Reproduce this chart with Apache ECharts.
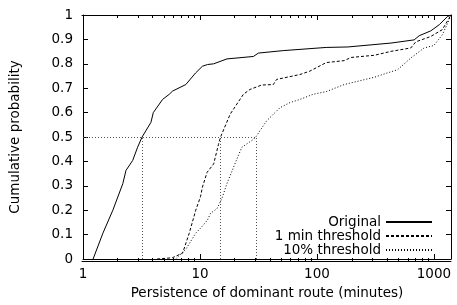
<!DOCTYPE html>
<html><head><meta charset="utf-8">
<script src="https://cdn.jsdelivr.net/npm/echarts@6/dist/echarts.min.js"></script>
<style>html,body{margin:0;padding:0;background:#fff}#c{width:457px;height:305px}</style>
</head><body><div id="c"></div>
<script>
// ---- data ----
var seriesNames = ['Original', '1 min threshold', '10% threshold'];
var originalX = [1.22,1.48,1.80,2.19,2.33,2.66,2.93,3.2,3.81,3.99,4.79,5.46,5.82,7.57,9.2,10.5,11.6,13.1,17,28.6,31.6,51.5,120,184,430,678,748,940,1110,1300,1400];
var originalY = [0,0.106,0.20,0.309,0.363,0.404,0.458,0.5,0.56,0.60,0.654,0.675,0.688,0.715,0.763,0.79,0.797,0.80,0.82,0.83,0.844,0.854,0.867,0.869,0.885,0.898,0.915,0.935,0.96,0.993,1];
var oneMinX = [4.3,5.8,7.1,8.1,9.2,10.1,10.5,11.5,13.1,14.4,15,18.1,23.5,26.8,33.7,42.4,45.2,71.5,87,120,171,196,310,430,635,700,940,1180,1350,1400];
var oneMinY = [0,0.005,0.024,0.106,0.20,0.255,0.295,0.355,0.39,0.47,0.5,0.593,0.675,0.695,0.713,0.715,0.736,0.756,0.77,0.805,0.813,0.826,0.835,0.851,0.865,0.89,0.912,0.94,0.987,1];
var tenPctX = [6.2,7.57,9.2,10.1,11.6,12.3,14.0,15.4,17.0,20.7,22.8,28.6,30,37.1,48.3,58.8,71.5,92.6,120,171,310,403,490,635,825,1000,1180,1350,1400];
var tenPctY = [0,0.04,0.106,0.126,0.16,0.187,0.207,0.248,0.309,0.41,0.458,0.49,0.5,0.566,0.62,0.641,0.654,0.675,0.686,0.715,0.745,0.763,0.776,0.824,0.865,0.875,0.919,0.98,1];
var medianLevel = 0.5;
var medians = [3.2, 15, 30];
var xMinorTicks = [2,3,4,5,6,7,8,9,20,30,40,50,60,70,80,90,200,300,400,500,600,700,800,900];
var xMin = 1, xMax = 1400;

function pairs(xs, ys) { return xs.map(function (x, i) { return [x, ys[i]]; }); }

var FONT = 'DejaVu Sans';
var txt = { color: '#000', fontFamily: FONT, fontSize: 13.5 };

var guideLines = [[{ coord: [xMin, medianLevel] }, { coord: [medians[medians.length - 1], medianLevel] }]];
medians.forEach(function (m) { guideLines.push([{ coord: [m, 0] }, { coord: [m, medianLevel] }]); });

function line(show) { return { show: show, onZero: false, lineStyle: { color: '#000', width: 1 } }; }

// main log axes (major ticks at decades)
function xLog(pos, labels) {
  return {
    type: 'log', logBase: 10, gridIndex: 0, position: pos, min: xMin, max: xMax,
    axisLine: line(true),
    axisTick: { show: true, inside: true, length: 5, lineStyle: { color: '#000', width: 1 } },
    axisLabel: labels ? Object.assign({ show: true, margin: 8, showMaxLabel: false,
      formatter: function (v) { return String(Math.round(v)); } }, txt) : { show: false },
    splitLine: { show: false }
  };
}
// helper axes (in decade units) carrying only the minor ticks
function xMinor(pos) {
  return {
    type: 'value', gridIndex: 1, position: pos, min: Math.log10(xMin), max: Math.log10(xMax),
    axisLine: line(true),
    axisTick: { show: true, inside: true, length: 3, customValues: xMinorTicks.map(Math.log10), lineStyle: { color: '#000', width: 1 } },
    axisLabel: { show: false },
    splitLine: { show: false }
  };
}
function yAx(gridIndex, pos, labels) {
  return {
    type: 'value', gridIndex: gridIndex, position: pos, min: 0, max: 1, interval: 0.1,
    axisLine: line(gridIndex === 0),
    axisTick: { show: gridIndex === 0, inside: true, length: 5, lineStyle: { color: '#000', width: 1 } },
    axisLabel: labels ? Object.assign({ show: true, margin: 10, formatter: function (v) { return String(+v.toFixed(1)); } }, txt) : { show: false },
    splitLine: { show: false }
  };
}

var grid = { left: 82, right: 6, top: 15, bottom: 44 };
var xs0 = xLog('bottom', true);
xs0.name = 'Persistence of dominant route (minutes)';
xs0.nameLocation = 'middle';
xs0.nameGap = 27;
xs0.nameTextStyle = txt;
var ys0 = yAx(0, 'left', true);
ys0.name = 'Cumulative probability';
ys0.nameLocation = 'middle';
ys0.nameGap = 61;
ys0.nameTextStyle = txt;

var option = {
  animation: false,
  backgroundColor: '#fff',
  grid: [Object.assign({}, grid), Object.assign({}, grid)],
  xAxis: [xs0, xLog('top', false), xMinor('bottom'), xMinor('top')],
  yAxis: [ys0, yAx(0, 'right', false), yAx(1, 'left', false)],
  legend: {
    orient: 'vertical', align: 'right', right: 24, top: 215, padding: 0,
    itemWidth: 46, itemHeight: 10, itemGap: 0,
    itemStyle: { opacity: 0 },
    textStyle: txt,
    data: seriesNames
  },
  series: [
    { name: seriesNames[0], type: 'line', xAxisIndex: 0, yAxisIndex: 0, data: pairs(originalX, originalY),
      symbol: 'none', lineStyle: { color: '#000', width: 1, type: 'solid' }, itemStyle: { color: '#000' },
      markLine: { silent: true, symbol: 'none', label: { show: false },
        lineStyle: { color: '#555', width: 1, type: [1, 2] }, data: guideLines } },
    { name: seriesNames[1], type: 'line', xAxisIndex: 0, yAxisIndex: 0, data: pairs(oneMinX, oneMinY),
      symbol: 'none', lineStyle: { color: '#000', width: 1, type: [3, 2] }, itemStyle: { color: '#000' } },
    { name: seriesNames[2], type: 'line', xAxisIndex: 0, yAxisIndex: 0, data: pairs(tenPctX, tenPctY),
      symbol: 'none', lineStyle: { color: '#000', width: 1, type: [1, 2] }, itemStyle: { color: '#000' } }
  ]
};
var chart = echarts.init(document.getElementById('c'), null, { renderer: 'canvas' });
chart.setOption(option);
</script></body></html>
